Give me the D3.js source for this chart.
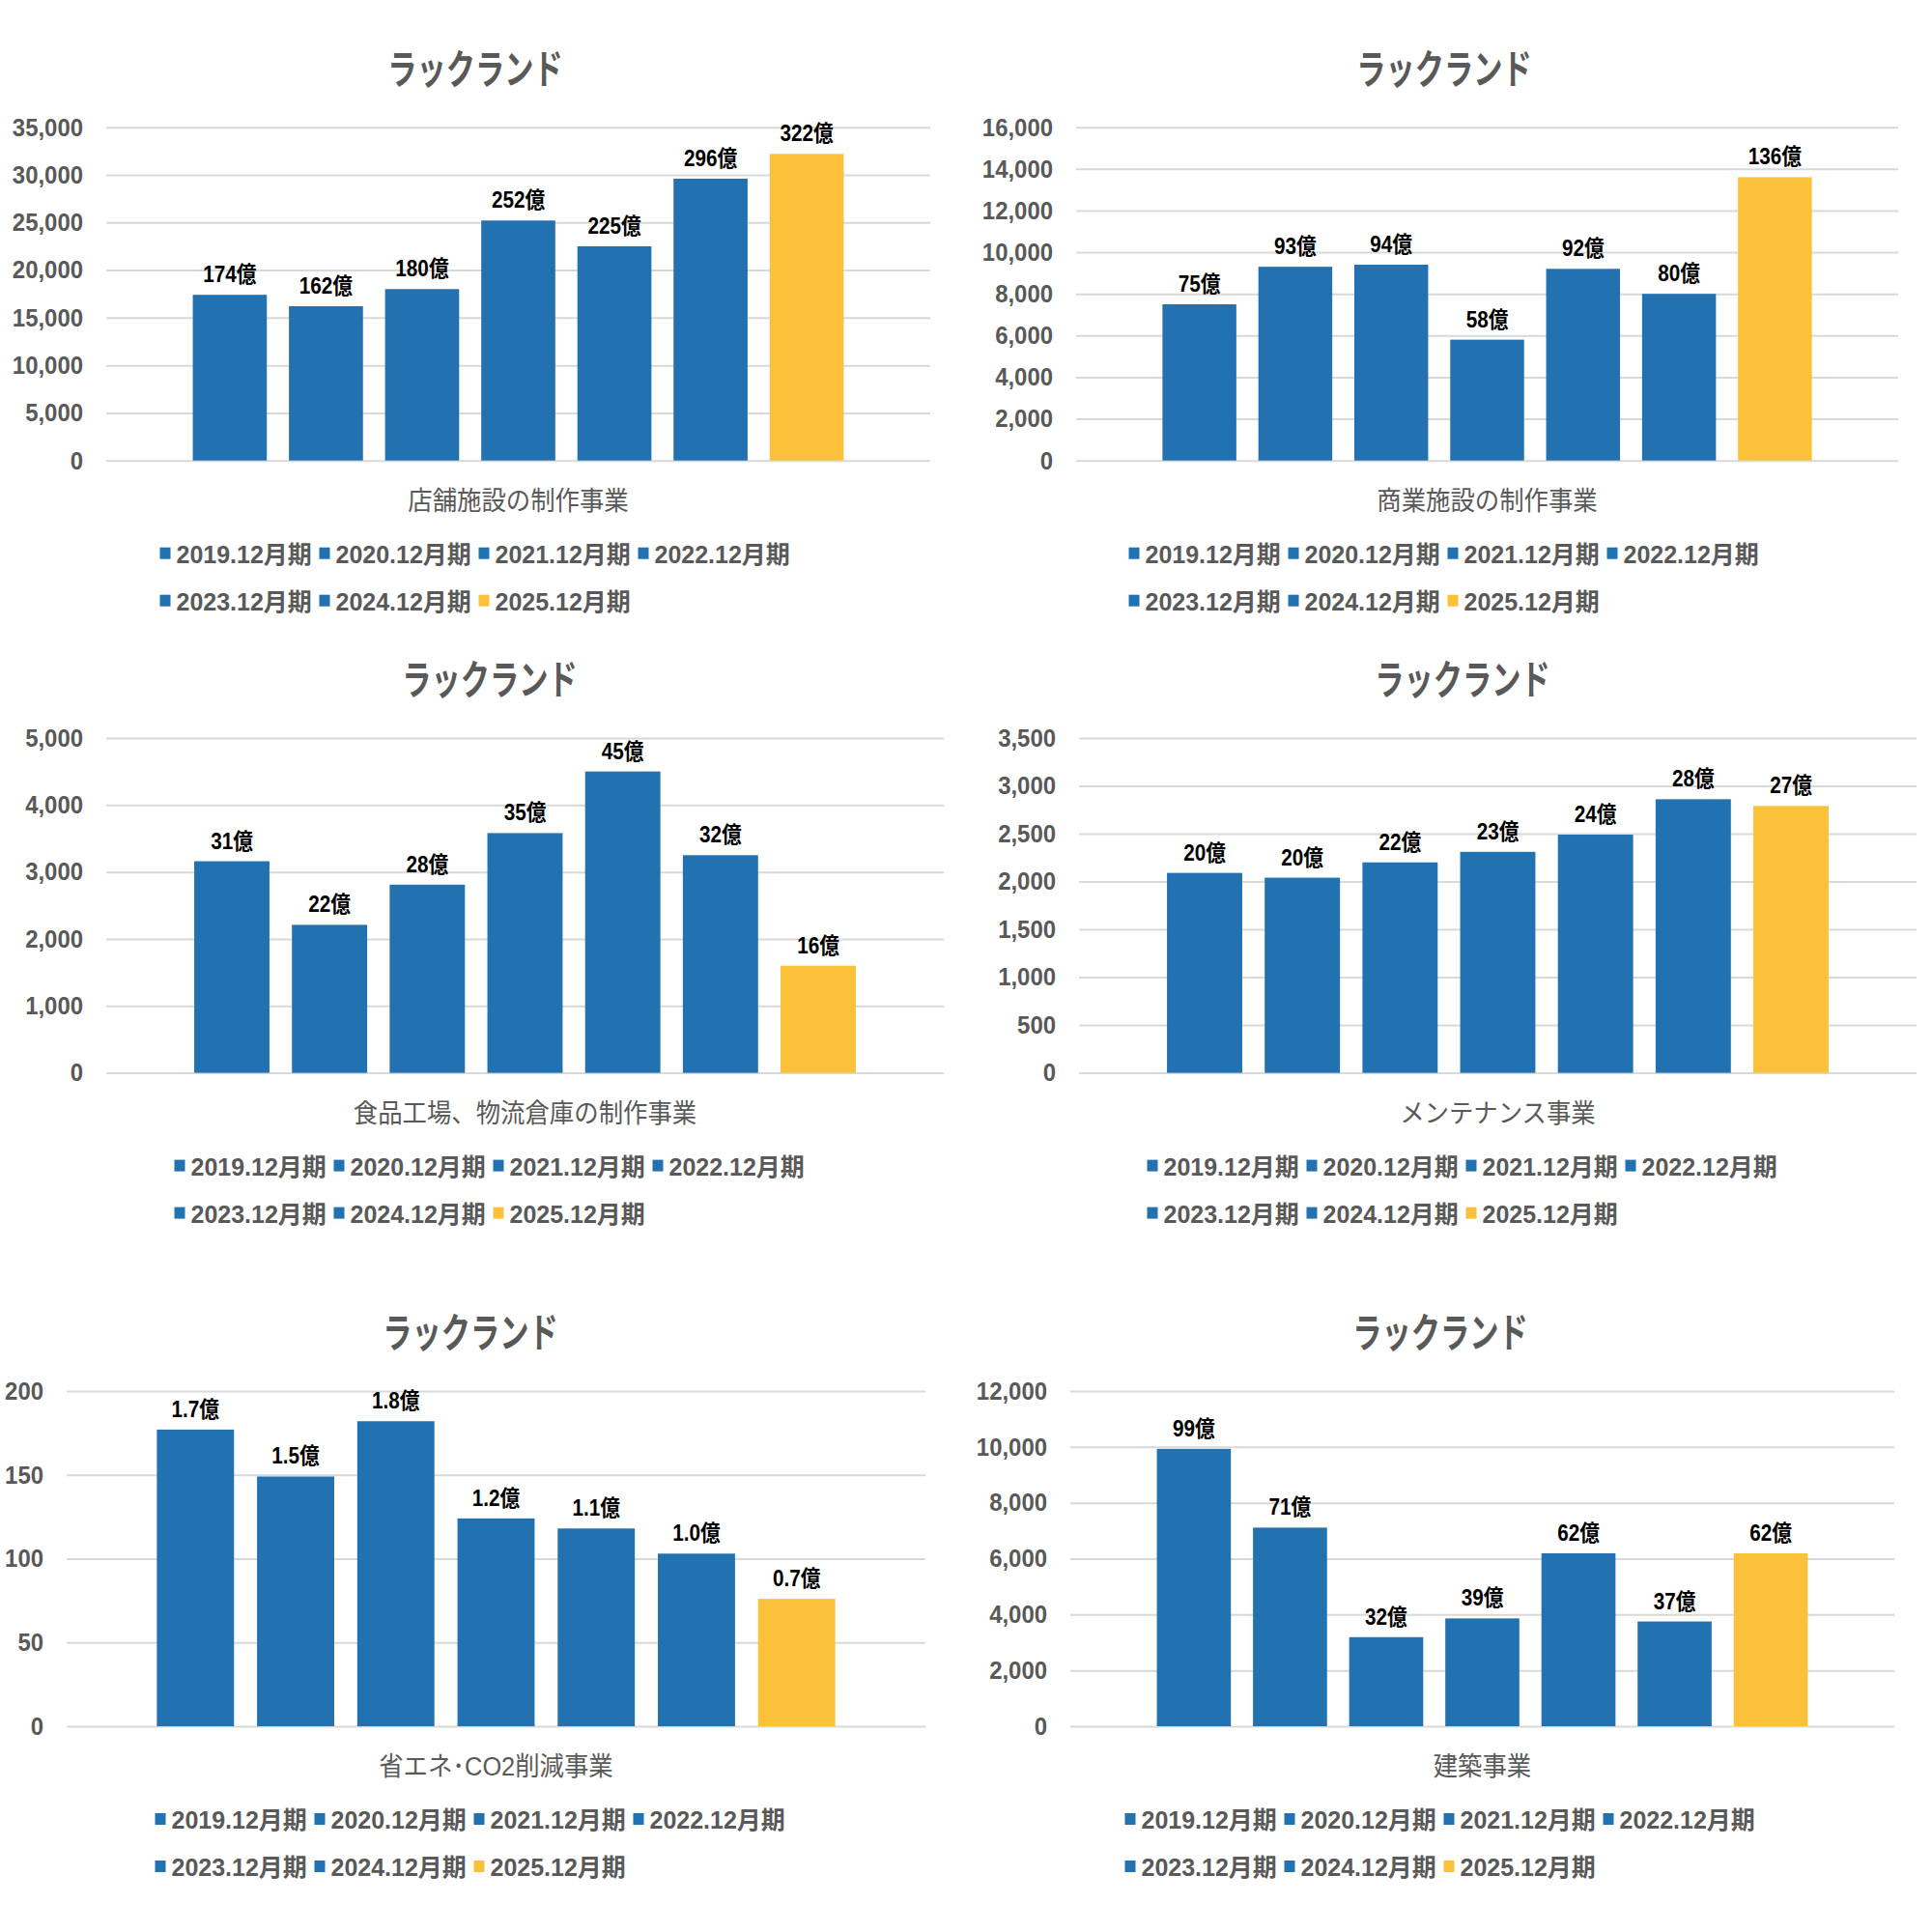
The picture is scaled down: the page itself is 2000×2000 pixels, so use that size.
<!DOCTYPE html>
<html>
<head>
<meta charset="utf-8">
<script src="https://cdn.jsdelivr.net/npm/d3@7"></script>
<style>
  body { margin: 0; background: #fff; }
  svg text { font-family: "Liberation Sans", Arial, "Noto Sans CJK JP", sans-serif; }
</style>
</head>
<body>
<div id="chart"></div>
<script>
// legend entries (one series per fiscal period)
var periods = ['2019.12月期', '2020.12月期', '2021.12月期', '2022.12月期',
               '2023.12月期', '2024.12月期', '2025.12月期'];
var chartTitle = 'ラックランド';

// segment names, in panel order
var segments = ['店舗施設の制作事業', '商業施設の制作事業', '食品工場、物流倉庫の制作事業',
                'メンテナンス事業', '省エネ･CO2削減事業', '建築事業'];

// sales per segment (百万円)
var storeValues = [17400, 16200, 18000, 25200, 22500, 29600, 32200];
var commercialValues = [7500, 9300, 9400, 5800, 9200, 8000, 13600];
var factoryValues = [3160, 2210, 2810, 3580, 4500, 3250, 1600];
var maintenanceValues = [2090, 2040, 2200, 2310, 2490, 2860, 2790];
var ecoValues = [177, 149, 182, 124, 118, 103, 76];
var buildingValues = [9930, 7110, 3190, 3860, 6190, 3750, 6190];

// data labels as printed on the bars
var storeLabels = ['174億', '162億', '180億', '252億', '225億', '296億', '322億'];
var commercialLabels = ['75億', '93億', '94億', '58億', '92億', '80億', '136億'];
var factoryLabels = ['31億', '22億', '28億', '35億', '45億', '32億', '16億'];
var maintenanceLabels = ['20億', '20億', '22億', '23億', '24億', '28億', '27億'];
var ecoLabels = ['1.7億', '1.5億', '1.8億', '1.2億', '1.1億', '1.0億', '0.7億'];
var buildingLabels = ['99億', '71億', '32億', '39億', '62億', '37億', '62億'];

// y axis: top value and tick step
var yMaxes = [35000, 16000, 5000, 3500, 200, 12000];
var ySteps = [5000, 2000, 1000, 500, 50, 2000];

var allValues = [storeValues, commercialValues, factoryValues, maintenanceValues, ecoValues, buildingValues];
var allLabels = [storeLabels, commercialLabels, factoryLabels, maintenanceLabels, ecoLabels, buildingLabels];

// plot rectangles of the six panels, cx = centre for title and legend
var layout = [
    {left: 110, right: 963, top: 131.7, bottom: 476.7, cx: 492},
    {left: 1114, right: 1965, top: 131.7, bottom: 476.7, cx: 1495},
    {left: 110, right: 977, top: 764, bottom: 1110.6, cx: 507},
    {left: 1117, right: 1984, top: 764, bottom: 1110.6, cx: 1514},
    {left: 69, right: 958, top: 1440, bottom: 1787, cx: 487},
    {left: 1108, right: 1961, top: 1440, bottom: 1787, cx: 1491}
];

var blue = '#2271b1',
    gold = '#fcc13a',
    grey = '#595959',
    gridColor = '#d9d9d9';

var color = d3.scaleOrdinal()
    .domain(periods)
    .range(periods.map(function(p, i) { return i == periods.length - 1 ? gold : blue; }));

var svg = d3.select('#chart')
    .append('svg')
    .attr('width', 2000)
    .attr('height', 2000);

// narrow the text horizontally, the source font is a condensed one
function squeeze(sel, k) {
    sel.each(function() {
        var w = this.getComputedTextLength();
        d3.select(this)
            .attr('textLength', w * k)
            .attr('lengthAdjust', 'spacingAndGlyphs');
    });
}

layout.forEach(function(box, i) {
    var values = allValues[i],
        labels = allLabels[i];
    var g = svg.append('g');

    var x = d3.scaleBand()
        .domain(periods)
        .range([box.left, box.right])
        .paddingInner(0.23)
        .paddingOuter(0.9);

    var y = d3.scaleLinear()
        .domain([0, yMaxes[i]])
        .range([box.bottom, box.top]);

    var ticks = d3.range(0, yMaxes[i] + ySteps[i] / 2, ySteps[i]);

    // gridlines + tick labels through a left axis
    var axis = g.append('g')
        .attr('transform', 'translate(' + box.left + ',0)')
        .call(d3.axisLeft(y)
            .tickValues(ticks)
            .tickFormat(d3.format(','))
            .tickSize(-(box.right - box.left))
            .tickPadding(24));
    axis.select('.domain').remove();
    axis.selectAll('.tick line')
        .attr('stroke', gridColor)
        .attr('stroke-width', 2);
    axis.selectAll('.tick text')
        .attr('fill', grey)
        .style('font-size', '26px')
        .style('font-weight', 'bold');
    squeeze(axis.selectAll('.tick text'), 0.92);

    // bars
    g.append('g')
        .selectAll('rect')
        .data(values)
        .enter()
        .append('rect')
        .attr('x', function(d, j) { return x(periods[j]); })
        .attr('y', function(d) { return y(d); })
        .attr('width', x.bandwidth())
        .attr('height', function(d) { return y(0) - y(d); })
        .attr('fill', function(d, j) { return color(periods[j]); });

    // value labels
    var vl = g.append('g')
        .selectAll('text')
        .data(values)
        .enter()
        .append('text')
        .attr('x', function(d, j) { return x(periods[j]) + x.bandwidth() / 2; })
        .attr('y', function(d) { return y(d) - 13; })
        .attr('text-anchor', 'middle')
        .attr('fill', '#000')
        .style('font-size', '23px')
        .style('font-weight', 'bold')
        .text(function(d, j) { return labels[j]; });
    squeeze(vl, 0.9);

    // title
    var t = g.append('text')
        .attr('x', box.cx)
        .attr('y', box.top - 45)
        .attr('text-anchor', 'middle')
        .attr('fill', grey)
        .style('font-size', '42px')
        .style('font-weight', 'bold')
        .text(chartTitle);
    squeeze(t, 0.72);

    // category name under the axis
    var c = g.append('text')
        .attr('x', (box.left + box.right) / 2)
        .attr('y', box.bottom + 51)
        .attr('text-anchor', 'middle')
        .attr('fill', grey)
        .style('font-size', '27px')
        .text(segments[i]);
    squeeze(c, 0.94);

    // legend, 4 items on the first row and 3 on the second
    var pitch = 165,
        startX = box.cx - (3 * pitch + 158) / 2;
    var items = g.append('g')
        .selectAll('g')
        .data(periods)
        .enter()
        .append('g')
        .attr('transform', function(d, j) {
            var row = j < 4 ? 0 : 1,
                col = j < 4 ? j : j - 4;
            return 'translate(' + (startX + col * pitch) + ',' + (box.bottom + 106 + row * 49) + ')';
        });
    items.append('rect')
        .attr('x', 0)
        .attr('y', -16)
        .attr('width', 11)
        .attr('height', 12)
        .attr('fill', function(d) { return color(d); });
    items.append('text')
        .attr('x', 17)
        .attr('y', 0)
        .attr('fill', grey)
        .style('font-size', '25px')
        .style('font-weight', 'bold')
        .text(function(d) { return d; });
});
</script>
</body>
</html>
